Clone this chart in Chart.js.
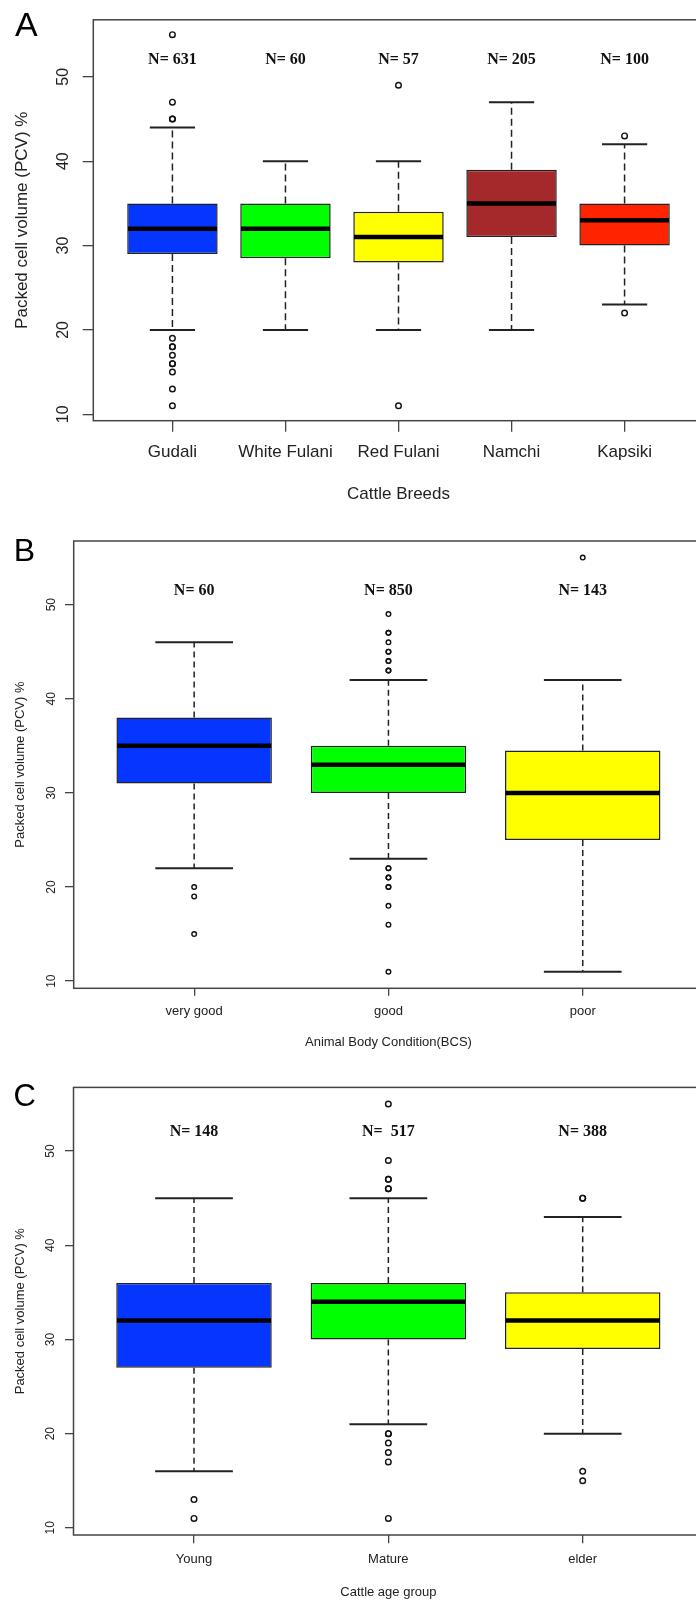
<!DOCTYPE html>
<html><head><meta charset="utf-8">
<script src="https://cdn.jsdelivr.net/npm/chart.js@4.4.1/dist/chart.umd.min.js"></script>
<style>
html,body{margin:0;padding:0;background:#fff;width:696px;height:1601px;overflow:hidden;position:relative;}
.panel{position:absolute;left:0;width:712px;}
canvas{display:block;}
</style></head><body>
<div class="panel" style="top:0;height:520px"><canvas id="cA" width="712" height="520" style="width:712px;height:520px"></canvas></div>
<div class="panel" style="top:520px;height:540px"><canvas id="cB" width="712" height="540" style="width:712px;height:540px"></canvas></div>
<div class="panel" style="top:1060px;height:541px"><canvas id="cC" width="712" height="541" style="width:712px;height:541px"></canvas></div>
<script>
// ---------- DATA ----------
const yTicks = [10, 20, 30, 40, 50];
const yTitle = 'Packed cell volume (PCV) %';

// Panel A: cattle breeds
const breedLabels = ['Gudali', 'White Fulani', 'Red Fulani', 'Namchi', 'Kapsiki'];
const breedN = ['N= 631', 'N= 60', 'N= 57', 'N= 205', 'N= 100'];
const breedLow = [20, 20, 20, 20, 23];
const breedQ1 = [29, 28.5, 28, 31, 30];
const breedMedian = [32, 32, 31, 35, 33];
const breedQ3 = [35, 35, 34, 39, 35];
const breedHigh = [44, 40, 40, 47, 42];
const breedOutliers = [[55, 47, 45, 45, 19, 18, 18, 17, 16, 16, 15, 13, 11], [], [49, 11], [], [43, 22]];

// Panel B: body condition
const bcsLabels = ['very good', 'good', 'poor'];
const bcsN = ['N= 60', 'N= 850', 'N= 143'];
const bcsLow = [22, 23, 11];
const bcsQ1 = [31, 30, 25];
const bcsMedian = [35, 33, 30];
const bcsQ3 = [38, 35, 34.5];
const bcsHigh = [46, 42, 42];
const bcsOutliers = [[20, 19, 15], [49, 47, 47, 46, 45, 45, 44, 44, 43, 43, 22, 22, 21, 21, 20, 20, 18, 16, 11], [55]];

// Panel C: age group
const ageLabels = ['Young', 'Mature', 'elder'];
const ageN = ['N= 148', 'N=  517', 'N= 388'];
const ageLow = [16, 21, 20];
const ageQ1 = [27, 30, 29];
const ageMedian = [32, 34, 32];
const ageQ3 = [36, 36, 35];
const ageHigh = [45, 45, 43];
const ageOutliers = [[13, 11], [55, 49, 47, 47, 46, 46, 20, 20, 19, 18, 17, 11], [45, 45, 16, 15]];

// ---------- STYLE ----------
const SANS = '"Liberation Sans", Arial, sans-serif';
const SERIF = '"Liberation Serif", "Times New Roman", serif';
const TXT = '#222';

const styleA = {
  colors: ['#0536FF', '#00FF00', '#FFFF00', '#A5282A', '#FF2400'],
  pad: {top: 10.7, bottom: 15.8, left: 0, right: 8.3},
  yW: 93.3, yTick: 10.6, yTickFont: 16, yTickPad: 10.2, yTitleFont: 17, yTitlePad: 11.8,
  xH: 83.5, xTick: 11, xTickFont: 17, xTickPad: 10.8, xTitleFont: 17,
  xMin: 0.3, xMax: 5.7, nY: 52, nSize: 16, outR: 2.8,
  letter: 'A', letterSize: 34, letterX: 15, letterY: 35.7, medW: 4.5, dash: [7, 4]
};
const styleB = {
  colors: ['#0536FF', '#00FF00', '#FFFF00'],
  pad: {top: 21, bottom: 9.5, left: 0, right: 8.8},
  yW: 73.7, yTick: 8.7, yTickFont: 12, yTickPad: 6.9, yTitleFont: 13, yTitlePad: 12.8,
  xH: 62.2, xTick: 7.4, xTickFont: 13, xTickPad: 8.2, xTitleFont: 13,
  xMin: 0.38, xMax: 3.62, nY: 51.5, nSize: 16, outR: 2.3,
  letter: 'B', letterSize: 32, letterX: 13.8, letterY: 40.7, medW: 4.5, dash: [6, 4]
};
const styleC = {
  colors: ['#0536FF', '#00FF00', '#FFFF00'],
  pad: {top: 27.4, bottom: 1.2, left: 0, right: 8.8},
  yW: 73.5, yTick: 8.5, yTickFont: 12, yTickPad: 7.3, yTitleFont: 13, yTitlePad: 12.2,
  xH: 64.8, xTick: 8.3, xTickFont: 13, xTickPad: 7.9, xTitleFont: 13,
  xMin: 0.38, xMax: 3.62, nY: 52, nSize: 16, outR: 2.8,
  letter: 'C', letterSize: 31, letterX: 13.5, letterY: 46.4, medW: 4.5, dash: [6, 4]
};

function makePanel(id, labels, nText, low, q1, med, q3, high, outliers, xTitle, st) {
  const pos = labels.map((_, i) => i + 1);
  const boxes = pos.map((p, i) => ({x: p, y: [q1[i], q3[i]]}));
  const outs = [];
  outliers.forEach((arr, i) => arr.forEach(v => outs.push({x: pos[i], y: v})));

  const extras = {
    id: 'extras_' + id,
    afterDatasetsDraw(chart) {
      const {ctx} = chart;
      const x = chart.scales.x, y = chart.scales.y;
      ctx.save();
      const seg = (x1, y1, x2, y2) => { ctx.beginPath(); ctx.moveTo(x1, y1); ctx.lineTo(x2, y2); ctx.stroke(); };
      pos.forEach((p, i) => {
        const cx = x.getPixelForValue(p);
        const hb = x.getPixelForValue(p + 0.4) - cx;
        const hc = x.getPixelForValue(p + 0.2) - cx;
        const yHi = y.getPixelForValue(high[i]), yLo = y.getPixelForValue(low[i]);
        ctx.strokeStyle = '#222';
        ctx.lineWidth = 1.5;
        ctx.setLineDash(st.dash);
        seg(cx, y.getPixelForValue(q3[i]), cx, yHi);
        seg(cx, y.getPixelForValue(q1[i]), cx, yLo);
        ctx.setLineDash([]);
        ctx.lineWidth = 2;
        seg(cx - hc, yHi, cx + hc, yHi);
        seg(cx - hc, yLo, cx + hc, yLo);
        ctx.strokeStyle = '#000';
        ctx.lineWidth = st.medW;
        const ym = y.getPixelForValue(med[i]);
        seg(cx - hb + 0.75, ym, cx + hb - 0.75, ym);
        ctx.fillStyle = '#111';
        ctx.font = 'bold ' + st.nSize + 'px ' + SERIF;
        ctx.textAlign = 'center';
        ctx.textBaseline = 'middle';
        ctx.fillText(nText[i], cx, y.getPixelForValue(st.nY));
      });
      ctx.restore();
    },
    afterDraw(chart) {
      const {ctx, chartArea: a} = chart;
      ctx.save();
      ctx.strokeStyle = '#444';
      ctx.lineWidth = 1.5;
      ctx.strokeRect(a.left, a.top, a.right - a.left, a.bottom - a.top);
      ctx.font = st.letterSize + 'px ' + SANS;
      ctx.fillStyle = '#000';
      ctx.textAlign = 'left';
      ctx.textBaseline = 'alphabetic';
      ctx.fillText(st.letter, st.letterX, st.letterY);
      ctx.restore();
    }
  };

  return new Chart(document.getElementById(id), {
    type: 'bar',
    data: {
      datasets: [
        {
          type: 'bar', data: boxes, backgroundColor: st.colors, borderColor: '#222',
          borderWidth: 1.5, borderSkipped: false, categoryPercentage: 0.8, barPercentage: 1, order: 2
        },
        {
          type: 'scatter', data: outs, pointRadius: st.outR, pointBorderWidth: 1.4,
          pointBorderColor: '#111', pointBackgroundColor: 'rgba(0,0,0,0)', order: 1
        }
      ]
    },
    options: {
      responsive: false, animation: false, devicePixelRatio: 1, events: [],
      layout: {padding: st.pad},
      plugins: {legend: {display: false}, tooltip: {enabled: false}},
      scales: {
        x: {
          type: 'linear', min: st.xMin, max: st.xMax, bounds: 'data', offset: false,
          afterBuildTicks: s => { s.ticks = pos.map(v => ({value: v})); },
          ticks: {
            callback: (v, i) => labels[i], autoSkip: false, maxRotation: 0, minRotation: 0,
            font: {family: SANS, size: st.xTickFont}, color: TXT, padding: st.xTickPad
          },
          grid: {drawOnChartArea: false, drawTicks: true, tickLength: st.xTick, color: '#444', lineWidth: 1.3, offset: false},
          border: {display: false},
          title: {display: true, text: xTitle, font: {family: SANS, size: st.xTitleFont}, color: TXT, padding: 0},
          afterFit: s => { s.height = st.xH; }
        },
        y: {
          type: 'linear', min: 9.24, max: 56.76, bounds: 'data',
          afterBuildTicks: s => { s.ticks = yTicks.map(v => ({value: v})); },
          ticks: {
            minRotation: 90, maxRotation: 90, crossAlign: 'center',
            font: {family: SANS, size: st.yTickFont}, color: TXT, padding: st.yTickPad
          },
          grid: {drawOnChartArea: false, drawTicks: true, tickLength: st.yTick, color: '#444', lineWidth: 1.3},
          border: {display: false},
          title: {display: true, text: yTitle, font: {family: SANS, size: st.yTitleFont}, color: TXT, padding: st.yTitlePad},
          afterFit: s => { s.width = st.yW; }
        }
      }
    },
    plugins: [extras]
  });
}

makePanel('cA', breedLabels, breedN, breedLow, breedQ1, breedMedian, breedQ3, breedHigh, breedOutliers, 'Cattle Breeds', styleA);
makePanel('cB', bcsLabels, bcsN, bcsLow, bcsQ1, bcsMedian, bcsQ3, bcsHigh, bcsOutliers, 'Animal Body Condition(BCS)', styleB);
makePanel('cC', ageLabels, ageN, ageLow, ageQ1, ageMedian, ageQ3, ageHigh, ageOutliers, 'Cattle age group', styleC);
</script>
</body></html>
